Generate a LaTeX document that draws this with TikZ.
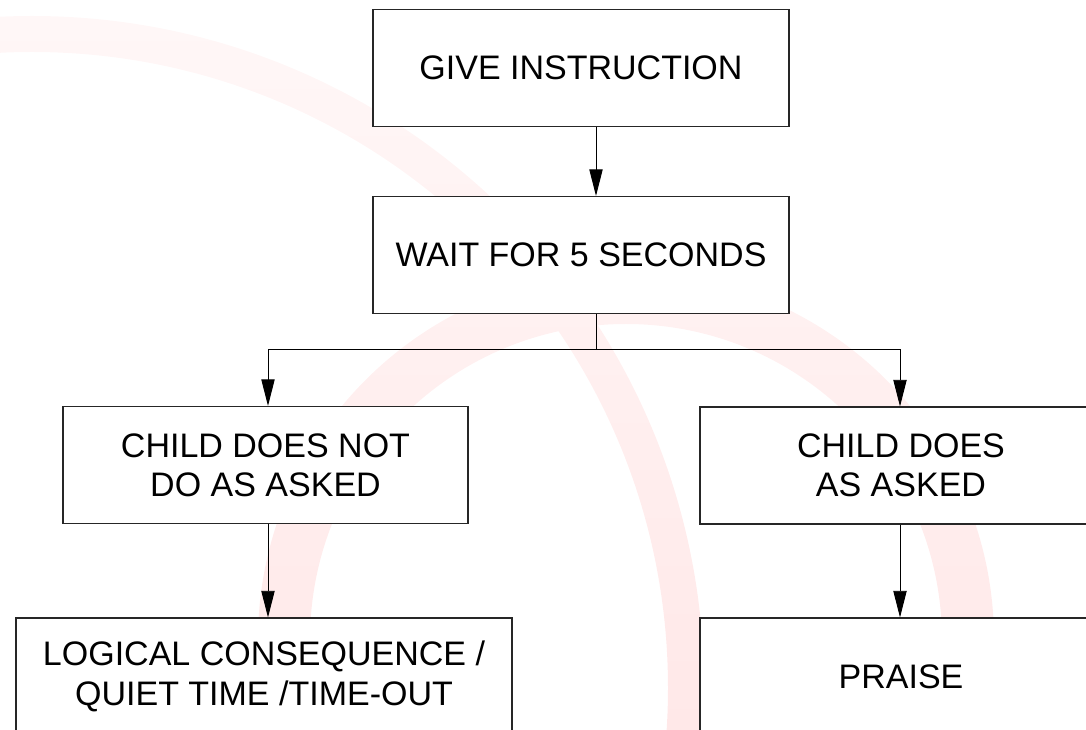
\documentclass[tikz,border=0pt]{standalone}
\usepackage{fontspec}
\setmainfont{Liberation Sans}
\usepackage{tikz}
\usetikzlibrary{arrows.meta,calc,positioning}

\begin{document}
\begin{tikzpicture}[
  x=0.75pt, y=-0.75pt,
  every node/.style={rectangle, draw=black!85, line width=0.8pt, fill=white, minimum height=87.75pt, inner sep=0pt, align=center, font=\fontsize{25.5}{29.5}\selectfont},
  link/.style={draw=black, line width=0.7pt},
  arr/.style={link, -{Triangle[length=20pt, width=10pt]}},
  ring/.style={top color=red!3, bottom color=red!9}
]
\useasboundingbox (0,0) rectangle (1086,730);
\begin{scope}
  \clip (0,0) rectangle (1086,730);
  \begin{scope}[even odd rule]
    \clip (32,688) circle[radius=672] (32,688) circle[radius=636];
    \shade[ring] (0,0) rectangle (1086,730);
  \end{scope}
  \begin{scope}[even odd rule]
    \clip (626,640) circle[radius=368] (626,640) circle[radius=316];
    \shade[ring] (0,0) rectangle (1086,730);
  \end{scope}
\end{scope}

\node[minimum width=312pt] (instr) at (581,68) {GIVE INSTRUCTION};
\node[minimum width=312pt] (wait) at (581,255) {WAIT FOR 5 SECONDS};
\node[minimum width=303.75pt] (notdo) at (265.5,465) {CHILD DOES NOT\\DO AS ASKED};
\node[minimum width=301.5pt] (doesdo) at (901,465.5) {CHILD DOES\\AS ASKED};
\node[minimum width=372pt] (conseq) at (264,676.5) {LOGICAL CONSEQUENCE /\\QUIET TIME /TIME-OUT};
\node[minimum width=301.5pt] (praise) at (901,676.5) {PRAISE};

\coordinate (split) at (596,349);
\coordinate (lx) at (268,0);
\coordinate (rx) at (900,0);
\draw[arr] (instr.south -| split) -- (wait.north -| split);
\draw[link] (wait.south -| split) -- (split);
\draw[arr] (split) -| (notdo.north -| lx);
\draw[arr] (split) -| (doesdo.north -| rx);
\draw[arr] (notdo.south -| lx) -- (conseq.north -| lx);
\draw[arr] (doesdo.south -| rx) -- (praise.north -| rx);
\end{tikzpicture}
\end{document}
